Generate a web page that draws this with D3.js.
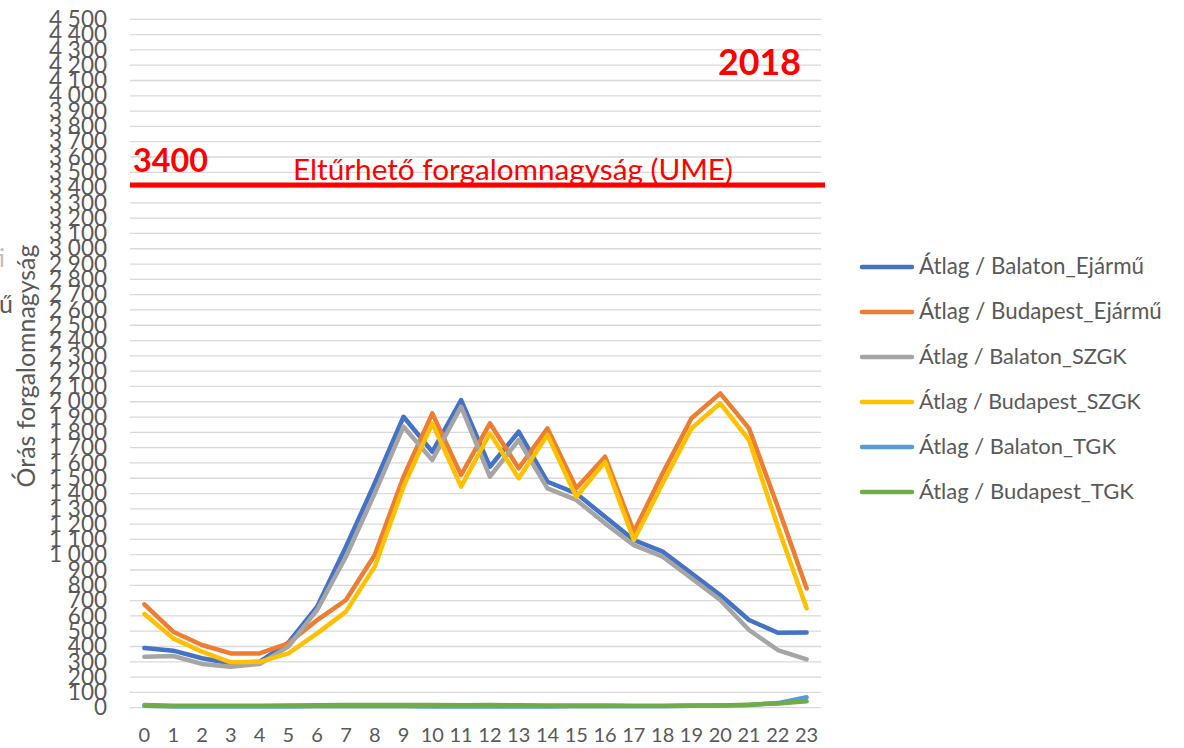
<!DOCTYPE html>
<html>
<head>
<meta charset="utf-8">
<script src="https://cdn.jsdelivr.net/npm/d3@7"></script>
<style>
  html, body { margin: 0; padding: 0; background: #fff; }
  svg { display: block; }
  text { font-family: Lato, "Open Sans", sans-serif; }
</style>
</head>
<body>
<svg id="chart" width="1184" height="748"></svg>
<script>
// Hours of the day
const hours = d3.range(0, 24);

// Average hourly traffic per counting site and vehicle class
const balatonEjarmu   = [390, 373, 323, 290, 300, 425, 660, 1052, 1467, 1902, 1673, 2011, 1575, 1804, 1477, 1401, 1248, 1096, 1020, 878, 737, 573, 490, 492];
const budapestEjarmu  = [676, 497, 410, 355, 355, 421, 573, 704, 998, 1510, 1924, 1521, 1859, 1565, 1826, 1434, 1641, 1150, 1532, 1892, 2055, 1826, 1314, 780];
const balatonSZGK     = [333, 338, 286, 268, 286, 399, 639, 987, 1401, 1837, 1619, 1968, 1510, 1750, 1434, 1358, 1205, 1063, 987, 846, 704, 508, 377, 316];
const budapestSZGK    = [612, 453, 366, 297, 300, 355, 486, 628, 922, 1445, 1859, 1445, 1794, 1500, 1783, 1379, 1608, 1096, 1467, 1826, 1990, 1750, 1183, 650];
const balatonTGK      = [12, 8, 8, 8, 8, 8, 10, 10, 10, 10, 8, 8, 8, 8, 8, 10, 10, 10, 10, 12, 14, 18, 30, 68];
const budapestTGK     = [18, 12, 12, 12, 12, 14, 16, 17, 18, 17, 17, 16, 18, 16, 14, 14, 15, 13, 13, 14, 15, 20, 28, 42];

const seriesNames = [
  "Átlag / Balaton_Ejármű",
  "Átlag / Budapest_Ejármű",
  "Átlag / Balaton_SZGK",
  "Átlag / Budapest_SZGK",
  "Átlag / Balaton_TGK",
  "Átlag / Budapest_TGK"
];
const seriesValues = [balatonEjarmu, budapestEjarmu, balatonSZGK, budapestSZGK, balatonTGK, budapestTGK];
const seriesColors = ["#4472C4", "#ED7D31", "#A5A5A5", "#FFC000", "#5B9BD5", "#70AD47"];

// Y axis ticks every 100 up to 4500
const yTicks = d3.range(0, 4501, 100);

// Acceptable traffic volume threshold
const limitValue = 3400;
const limitLabel = "Eltűrhető forgalomnagyság (UME)";
const yearLabel = "2018";
const yTitle = "Órás forgalomnagyság";

const svg = d3.select("#chart");
const plot = { left: 130, right: 821, top: 19.3, bottom: 707.7 };

const x = d3.scaleBand().domain(hours).range([plot.left, plot.right]).padding(0);
const xc = h => x(h) + x.bandwidth() / 2;
const y = d3.scaleLinear().domain([0, 4500]).range([plot.bottom, plot.top]);

const huLocale = d3.formatLocale({ decimal: ",", thousands: "\u00a0", grouping: [3], currency: ["", " Ft"] });
const fmt = huLocale.format(",d");

// fit a text element's font size so its rendered width matches a target width
function fitWidth(sel, target) {
  const base = parseFloat(sel.attr("font-size"));
  const w = sel.node().getComputedTextLength();
  if (w > 0) sel.attr("font-size", base * target / w);
  return sel;
}

// gridlines
svg.append("g")
  .selectAll("line")
  .data(yTicks)
  .join("line")
  .attr("x1", plot.left).attr("x2", plot.right)
  .attr("y1", d => y(d)).attr("y2", d => y(d))
  .attr("stroke", "#d9d9d9").attr("stroke-width", 1.3);

// y axis labels
const yAxis = svg.append("g")
  .attr("transform", `translate(${plot.left},0)`)
  .call(d3.axisLeft(y).tickValues(yTicks).tickFormat(fmt).tickSize(0).tickPadding(23));
yAxis.select(".domain").remove();
yAxis.selectAll("text")
  .attr("font-family", "Lato, sans-serif")
  .attr("font-size", 22.5)
  .attr("fill", "#595959");

// x axis labels
const xAxis = svg.append("g")
  .attr("transform", `translate(0,${plot.bottom})`)
  .call(d3.axisBottom(x).tickSize(0).tickPadding(20));
xAxis.select(".domain").remove();
xAxis.selectAll("text")
  .attr("font-family", "Lato, sans-serif")
  .attr("font-size", 20)
  .attr("fill", "#595959");

// y axis title
const yt = svg.append("text")
  .attr("transform", "translate(35,366) rotate(-90)")
  .attr("text-anchor", "middle")
  .attr("font-size", 22)
  .attr("fill", "#595959")
  .text(yTitle);
fitWidth(yt, 243);

// second title, mostly outside the drawing area
svg.append("text")
  .attr("x", 13).attr("y", 313)
  .attr("text-anchor", "end")
  .attr("font-size", 25)
  .attr("fill", "#595959")
  .text("Ejármű");
svg.append("text")
  .attr("x", 5).attr("y", 267)
  .attr("text-anchor", "end")
  .attr("font-size", 25)
  .attr("fill", "#bfbfbf")
  .text("Összesíti");

// series lines
const line = d3.line().x((d, i) => xc(hours[i])).y(d => y(d));
svg.append("g")
  .selectAll("path")
  .data(seriesValues)
  .join("path")
  .attr("d", d => line(d))
  .attr("fill", "none")
  .attr("stroke", (d, i) => seriesColors[i])
  .attr("stroke-width", 4.5)
  .attr("stroke-linejoin", "round")
  .attr("stroke-linecap", "round");

// threshold line and labels
svg.append("line")
  .attr("x1", plot.left).attr("x2", 825)
  .attr("y1", y(limitValue) - 2.5).attr("y2", y(limitValue) - 2.5)
  .attr("stroke", "#ff0000").attr("stroke-width", 5);

const l3400 = svg.append("text")
  .attr("x", 133).attr("y", 172)
  .attr("font-size", 36).attr("font-weight", "bold")
  .attr("fill", "#ff0000")
  .text(fmt(limitValue).replace(/\s/g, ""));
fitWidth(l3400, 75);

const lim = svg.append("text")
  .attr("x", 513).attr("y", 180)
  .attr("text-anchor", "middle")
  .attr("font-size", 28)
  .attr("fill", "#ff0000")
  .text(limitLabel);
fitWidth(lim, 440);

const yr = svg.append("text")
  .attr("x", 718).attr("y", 75)
  .attr("font-size", 40).attr("font-weight", "bold")
  .attr("fill", "#ff0000")
  .text(yearLabel);
fitWidth(yr, 83);

// legend
const legend = svg.append("g").selectAll("g")
  .data(seriesNames)
  .join("g")
  .attr("transform", (d, i) => `translate(0,${267 + i * 45})`);
legend.append("line")
  .attr("x1", 862).attr("x2", 912)
  .attr("stroke", (d, i) => seriesColors[i])
  .attr("stroke-width", 4.5)
  .attr("stroke-linecap", "round");
const legendTargets = [225, 243, 208, 222, 197, 215];
legend.append("text")
  .attr("x", 919).attr("y", 7)
  .attr("font-size", 20)
  .attr("fill", "#595959")
  .text(d => d)
  .each(function (d, i) { fitWidth(d3.select(this), legendTargets[i]); });
</script>
</body>
</html>
